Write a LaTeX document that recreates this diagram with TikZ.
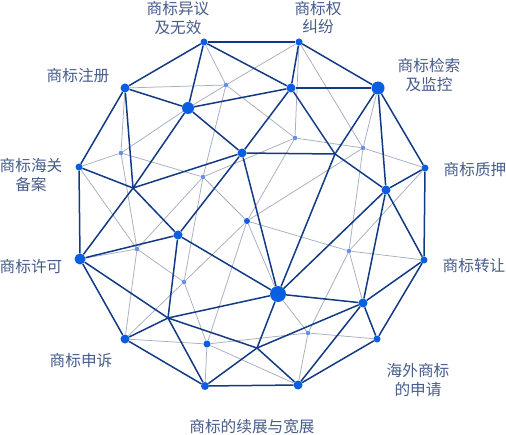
\documentclass[tikz,border=0pt]{standalone}
\usepackage{fontspec}
\newfontfamily\cjk{Noto Sans CJK SC}
\definecolor{nodeblue}{RGB}{10,94,226}
\definecolor{lightblue}{RGB}{100,145,228}
\definecolor{navy}{RGB}{18,58,132}
\definecolor{graylink}{RGB}{168,173,192}
\definecolor{labelc}{RGB}{70,92,138}
\begin{document}
\begin{tikzpicture}[x=1bp,y=-1bp,
  dot/.style={circle,fill=nodeblue,inner sep=0pt,minimum size=#1},
  ldot/.style={circle,fill=lightblue,inner sep=0pt,minimum size=4.6bp},
  strong/.style={draw=navy,line width=1.5bp},
  faint/.style={draw=graylink,line width=0.75bp},
  lbl/.style={text=labelc,font=\cjk\fontsize{15.7}{19}\selectfont,align=center,inner sep=0pt}]
\useasboundingbox (0,0) rectangle (506,435);
% outer nodes
\node[dot=7bp] (A) at (204,42) {};
\node[dot=7bp] (B) at (299,42) {};
\node[dot=13bp] (C) at (378,88) {};
\node[dot=7bp] (D) at (425,168) {};
\node[dot=7bp] (E) at (424,260) {};
\node[dot=7bp] (F) at (377,339) {};
\node[dot=9bp] (G) at (298,385) {};
\node[dot=8bp] (H) at (205,386) {};
\node[dot=9bp] (I) at (125,339) {};
\node[dot=11bp] (J) at (80,259) {};
\node[dot=7bp] (K) at (79,167) {};
\node[dot=9bp] (L) at (125,88) {};
% inner nodes
\node[dot=12bp] (M) at (188,108) {};
\node[dot=9bp] (N) at (291,88) {};
\node[dot=9bp] (P) at (242,153) {};
\node[dot=9bp] (Q) at (386,190) {};
\node[dot=9bp] (R) at (178,235) {};
\node[dot=6bp] (S) at (247,221) {};
\node[dot=16bp] (T) at (278,294) {};
\node[dot=9bp] (U) at (363,303) {};
\node[dot=7bp] (V) at (207,344) {};
% light nodes
\node[ldot] (l1) at (226,85) {};
\node[ldot] (l2) at (121,153) {};
\node[ldot] (l3) at (203,177) {};
\node[ldot] (l4) at (295,138) {};
\node[ldot] (l5) at (363,148) {};
\node[ldot] (l6) at (137,249) {};
\node[ldot] (l7) at (184,282) {};
\node[ldot] (l8) at (349,251) {};
\node[ldot] (l9) at (308,333) {};
% junctions
\coordinate (X1) at (133,188);
\coordinate (X2) at (168,318);
\coordinate (X3) at (257,348);
\coordinate (Y) at (335,154);
% faint links
\foreach \a/\b in {A/l1,L/l1,l1/B,l1/M,M/l2,L/l2,K/l2,l2/l3,l2/l6,l1/l3,l3/l6,l3/l7,l3/S,
  K/l6,J/l6,l6/l7,l6/I,I/l7,l7/S,l7/V,I/V,V/H,V/S,V/l9,V/G,T/l9,S/T,l9/G,l9/F,l9/l8,U/l8,
  S/l4,S/l5,S/l8,l8/D,l8/E,l8/l5,B/l4,l3/l4,l4/l5,l1/l4,l5/C,B/l5,l5/D}
  \path[faint] (\a) -- (\b);
% strong links
\foreach \a/\b in {A/B,B/C,C/D,D/E,E/F,F/G,G/H,H/I,I/J,J/K,K/L,L/A,
  A/M,A/N,L/M,L/X1,M/N,M/P,M/X1,X1/J,K/X1,X1/P,X1/R,B/N,N/C,N/P,N/Y,C/Y,C/Q,P/Y,P/R,P/T,
  Y/T,Y/Q,D/Q,Q/E,Q/U,Q/T,J/R,R/X2,R/T,J/X2,I/X2,X2/T,X2/H,X2/X3,T/X3,T/U,X3/H,X3/G,X3/U,
  U/G,U/F,U/E}
  \path[strong] (\a) -- (\b);
% labels
\node[lbl] (t1) at (178,18.5) {商标异议\\及无效};
\node[lbl] (t2) at (318,17.5) {商标权\\纠纷};
\node[lbl] (t3) at (429,75) {商标检索\\及监控};
\node[lbl] (t4) at (475,170) {商标质押};
\node[lbl] (t5) at (474,266) {商标转让};
\node[lbl] (t6) at (418,380) {海外商标\\的申请};
\node[lbl] (t7) at (252,427) {商标的续展与宽展};
\node[lbl] (t8) at (81,361) {商标申诉};
\node[lbl] (t9) at (31,267) {商标许可};
\node[lbl] (t10) at (31,175) {商标海关\\备案};
\node[lbl] (t11) at (78,76) {商标注册};
\end{tikzpicture}
\end{document}
